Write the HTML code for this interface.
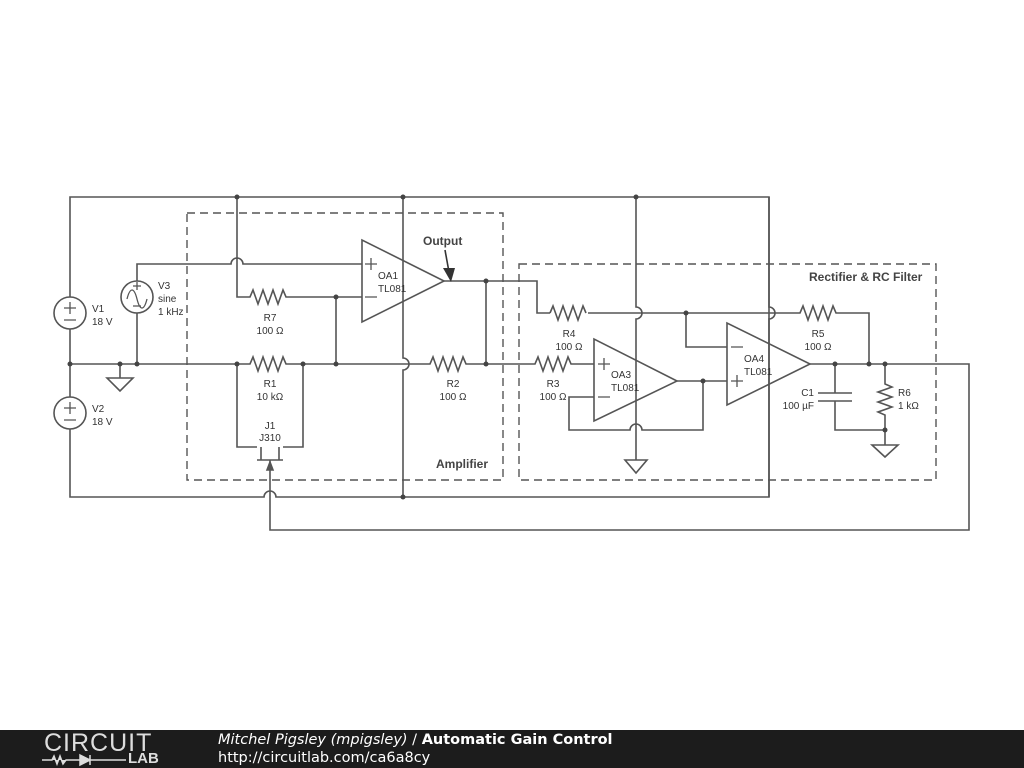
<!DOCTYPE html>
<html><head><meta charset="utf-8"><style>
body{margin:0;width:1024px;height:768px;background:#fff;overflow:hidden;font-family:"Liberation Sans",sans-serif}
svg{position:absolute;left:0;top:0}
.footer{position:absolute;left:0;top:730px;width:1024px;height:38px;background:#1c1c1c;color:#fff}
</style></head><body>
<svg width="1024" height="730" viewBox="0 0 1024 730">
<g fill="none" stroke="#555" stroke-width="1.6">
<!-- rails -->
<path d="M70 297V197H769V497H276a6 6 0 0 0 -12 0H70V429"/>
<path d="M70 329V397"/>
<!-- V3 wire -->
<path d="M137 281V264H231a6 6 0 0 1 12 0H362"/>
<path d="M137 313V364"/>
<!-- R7 -->
<path d="M237 197V297H250l3 -7 5 14 5 -14 5 14 5 -14 5 14 5 -14 3 7H362"/>
<path d="M336 297V364"/>
<!-- ground rail -->
<path d="M70 364H250l3 -7 5 14 5 -14 5 14 5 -14 5 14 5 -14 3 7H430l3 -7 5 14 5 -14 5 14 5 -14 5 14 5 -14 3 7H535l3 -7 5 14 5 -14 5 14 5 -14 5 14 5 -14 3 7H594"/>
<path d="M120 364V378M107 378H133L120 391Z"/>
<!-- R1 parallel / J1 -->
<path d="M237 364V447H257M303 364V447H283M257 460H283M261 447V460M279 447V460"/>
<path d="M270 460V530H969V364H810"/>
<path d="M270 462l-3 8h6z" fill="#555"/>
<!-- x=403 -->
<path d="M403 197V358a6 6 0 0 1 0 12V497"/>
<!-- OA1 -->
<path d="M362 240V322L444 281Z"/>
<path d="M444 281H537V313H550M588 313H800l3 -7 5 14 5 -14 5 14 5 -14 5 14 5 -14 3 7H869V364"/>
<path d="M550 313l3 -7 5 14 5 -14 5 14 5 -14 5 14 5 -14 3 7"/>
<path d="M486 281V364"/>
<!-- x=636 -->
<path d="M636 197V307a6 6 0 0 1 0 12V460M625 460H647L636 473Z"/>
<!-- OA3 -->
<path d="M594 339V421L677 381Z"/>
<path d="M677 381H727M594 397H569V430H630a6 6 0 0 1 12 0H703V381"/>
<!-- OA4 -->
<path d="M727 323V405L810 364Z"/>
<path d="M686 313V347H727"/>
<path d="M769 197V307a6 6 0 0 1 0 12V497"/>
<!-- C1 R6 -->
<path d="M835 364V393M818 393H852M818 401H852M835 401V430H885V415l-7 -3 14 -5 -14 -5 14 -5 -14 -5 14 -5 -7 -3V364"/>
<path d="M885 430V445M872 445H898L885 457Z"/>
</g>
<g fill="#444">
<circle cx="237" cy="197" r="2.5"/><circle cx="403" cy="197" r="2.5"/><circle cx="636" cy="197" r="2.5"/>
<circle cx="403" cy="497" r="2.5"/>
<circle cx="70" cy="364" r="2.5"/><circle cx="120" cy="364" r="2.5"/><circle cx="137" cy="364" r="2.5"/>
<circle cx="237" cy="364" r="2.5"/><circle cx="303" cy="364" r="2.5"/><circle cx="336" cy="364" r="2.5"/>
<circle cx="336" cy="297" r="2.5"/><circle cx="486" cy="281" r="2.5"/><circle cx="486" cy="364" r="2.5"/>
<circle cx="686" cy="313" r="2.5"/><circle cx="703" cy="381" r="2.5"/>
<circle cx="835" cy="364" r="2.5"/><circle cx="869" cy="364" r="2.5"/><circle cx="885" cy="364" r="2.5"/><circle cx="885" cy="430" r="2.5"/>
</g>
<!-- sources -->
<g fill="#fff" stroke="#555" stroke-width="1.6">
<circle cx="70" cy="313" r="16"/><circle cx="70" cy="413" r="16"/><circle cx="137" cy="297" r="16"/>
</g>
<g fill="none" stroke="#555" stroke-width="1.3">
<path d="M64 308H76M70 302V314M64 320H76"/>
<path d="M64 408H76M70 402V414M64 420H76"/>
<path d="M127 299c3-12 7-12 10 0s7 12 10 0M133 286H141M137 282V290M133 306H141"/>
<path d="M365 264H377M371 258V270M365 297H377M598 364H610M604 358V370M598 397H610M731 347H743M731 381H743M737 375V387"/>
</g>
<!-- output arrow -->
<path d="M445 250L449 272" stroke="#333" stroke-width="1.6"/>
<path d="M443 268L455 268L451 282Z" fill="#333"/>
<!-- boxes -->
<g fill="none" stroke="#555" stroke-width="1.4" stroke-dasharray="8,5">
<rect x="187" y="213" width="316" height="267"/>
<rect x="519" y="264" width="417" height="216"/>
</g>
<g font-size="10" fill="#333" font-family="Liberation Sans,sans-serif">
<text x="92" y="312">V1</text><text x="92" y="325">18 V</text>
<text x="92" y="412">V2</text><text x="92" y="425">18 V</text>
<text x="158" y="289">V3</text><text x="158" y="302">sine</text><text x="158" y="315">1 kHz</text>
<text x="270" y="321" text-anchor="middle">R7</text><text x="270" y="334" text-anchor="middle">100 Ω</text>
<text x="270" y="387" text-anchor="middle">R1</text><text x="270" y="400" text-anchor="middle">10 kΩ</text>
<text x="270" y="429" text-anchor="middle">J1</text><text x="270" y="441" text-anchor="middle">J310</text>
<text x="453" y="387" text-anchor="middle">R2</text><text x="453" y="400" text-anchor="middle">100 Ω</text>
<text x="378" y="279">OA1</text><text x="378" y="292">TL081</text>
<text x="569" y="337" text-anchor="middle">R4</text><text x="569" y="350" text-anchor="middle">100 Ω</text>
<text x="553" y="387" text-anchor="middle">R3</text><text x="553" y="400" text-anchor="middle">100 Ω</text>
<text x="611" y="378">OA3</text><text x="611" y="391">TL081</text>
<text x="744" y="362">OA4</text><text x="744" y="375">TL081</text>
<text x="818" y="337" text-anchor="middle">R5</text><text x="818" y="350" text-anchor="middle">100 Ω</text>
<text x="814" y="396" text-anchor="end">C1</text><text x="814" y="409" text-anchor="end">100 µF</text>
<text x="898" y="396">R6</text><text x="898" y="409">1 kΩ</text>
</g>
<g font-size="12" font-weight="bold" fill="#444">
<text x="423" y="245">Output</text>
<text x="436" y="468">Amplifier</text>
<text x="809" y="281">Rectifier &amp; RC Filter</text>
</g>
</svg>
<div class="footer">
<div style="position:absolute;left:44px;top:0;font-size:25px;color:#ddd;letter-spacing:1px;line-height:26px">CIRCUIT</div>
<div style="position:absolute;top:21px;font-size:15px;font-weight:bold;color:#ddd;line-height:16px;left:128px">LAB</div>
<svg width="90" height="16" style="left:40px;top:22px"><path d="M2 8H12l2-4 3 8 3-8 3 8 3-4H40M40 3V13M40 3L50 8L40 13ZM50 3V13M50 8H86" stroke="#ddd" stroke-width="1.5" fill="#ddd"/></svg>
<div style="position:absolute;left:218px;top:1px;font-size:14.5px;line-height:18px;font-family:'DejaVu Sans',sans-serif"><i>Mitchel Pigsley (mpigsley)</i> / <b>Automatic Gain Control</b></div>
<div style="position:absolute;left:218px;top:19px;font-size:14.5px;line-height:18px;font-family:'DejaVu Sans',sans-serif">http://circuitlab.com/ca6a8cy</div>
</div>
</body></html>
